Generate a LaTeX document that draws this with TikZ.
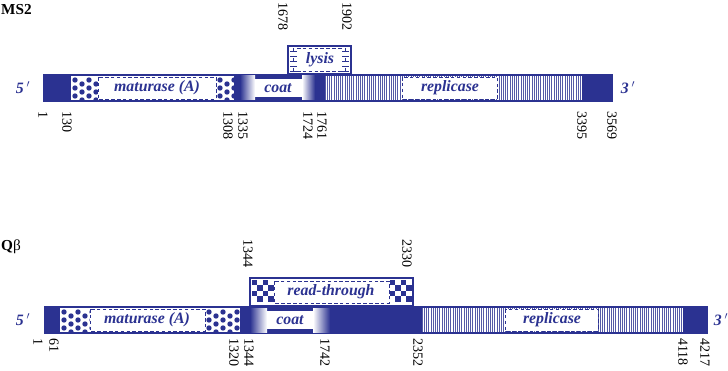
\documentclass[tikz,border=0pt]{standalone}
\usepackage{fontspec}
\setmainfont{Liberation Serif}
\usepackage{tikz}
\definecolor{phblue}{RGB}{43,50,145}

% dotted block (x1,y1,x2,y2)
\newcommand{\dotpatch}[4]{%
  \begin{scope}
    \clip (#1,#2) rectangle (#3,#4);
    \fill[white] (#1,#2) rectangle (#3,#4);
    \foreach \i in {0,...,5}
      \foreach \j in {0,...,3}
        \fill[phblue] ({#1+4+\i*7},{#2+4+\j*8+mod(\i,2)*4}) circle (2.3pt);
  \end{scope}}
% checker block, 4 x 4 (x,y,size)
\newcommand{\checkpatch}[3]{%
  \fill[white] (#1,#2) rectangle ++(4*#3,4*#3);
  \foreach \i in {0,...,3}
    \foreach \j in {0,2}
      \fill[phblue] ({#1+\i*#3},{#2+(\j+mod(\i,2))*#3}) rectangle ++(#3,#3);}
% vertical stripes (x1,x2,y1,y2)
\newcommand{\stripepatch}[4]{%
  \fill[white] (#1,#3) rectangle (#2,#4);
  \pgfmathsetmacro\stripelen{#2-#1}
  \foreach \k in {0,2.2,...,\stripelen}
    \draw[phblue!80, line width=0.45pt] ({#1+\k},#3) -- ({#1+\k},#4);}

\begin{document}
\begin{tikzpicture}[x=0.03cm,y=-0.03cm,
    pos label/.style={rotate=-90, inner sep=0pt, font=\fontsize{12}{14}\selectfont},
    gene label/.style={text=phblue, inner sep=0pt, font=\fontsize{13.5}{15}\selectfont\bfseries\itshape},
    label box/.style={fill=white, draw=phblue, densely dashed, line width=0.5pt},
    title/.style={inner sep=0pt, font=\fontsize{13}{15}\selectfont}]
\useasboundingbox (0,0) rectangle (728,371);

% ---------------- MS2 ----------------
\node[title, anchor=west] (ms2) at (1,10) {\bfseries MS2};

\fill[phblue] (43,74) rectangle (613,102);
% maturase
\fill[white] (71,76) rectangle (234,100);
\dotpatch{71}{76}{98}{100}
\dotpatch{216}{76}{234}{100}
\draw[label box] (98,77) rectangle (216,99);
\node[gene label] (mmat) at (157,88) {maturase (A)};
% coat
\shade[left color=phblue, right color=white] (240,76) rectangle (255,100);
\shade[left color=white, right color=phblue] (302,76) rectangle (315,100);
\fill[white] (255,79) rectangle (302,97);
\node[gene label] (mcoat) at (278,88) {coat};
% replicase
\stripepatch{325}{582}{76}{100}
\draw[label box] (402,77) rectangle (497,99);
\node[gene label] (mrep) at (450,88) {replicase};
% lysis
\draw[phblue, fill=white, line width=1.2pt] (288,46) rectangle (351,74);
\foreach \y in {51,56,...,71} {
  \draw[phblue, line width=0.5pt] (290,\y) -- (297,\y);
  \draw[phblue, line width=0.5pt] (342,\y) -- (349,\y);
}
\foreach \y in {48,58,68} {
  \draw[phblue, line width=0.5pt] (293.5,\y) -- ++(0,3) (345.5,\y) -- ++(0,3);
}
\draw[phblue, densely dashed, line width=0.5pt] (297,48.5) -- (342,48.5) (297,71.5) -- (342,71.5);
\node[gene label] (mlys) at (320,60) {lysis};

\node[gene label] (m5) at (23,88) {5\,$'$};
\node[gene label] (m3) at (628,88) {3\,$'$};

\node[pos label, anchor=east] (m1678) at (283,31) {1678};
\node[pos label, anchor=east] (m1902) at (347,31) {1902};

\node[pos label, anchor=west] (m1) at (43,111) {1};
\node[pos label, anchor=west] (m130) at (67,111) {130};
\node[pos label, anchor=west] (m1308) at (228,111) {1308};
\node[pos label, anchor=west] (m1335) at (243,111) {1335};
\node[pos label, anchor=west] (m1724) at (308,111) {1724};
\node[pos label, anchor=west] (m1761) at (322,111) {1761};
\node[pos label, anchor=west] (m3395) at (582,111) {3395};
\node[pos label, anchor=west] (m3569) at (612,111) {3569};

% ---------------- Qbeta ----------------
\node[title, anchor=west] (qb) at (1,247) {{\bfseries Q}β};

\fill[phblue] (44,306) rectangle (708,334);
% maturase
\fill[white] (60,308) rectangle (240,332);
\dotpatch{60}{308}{90}{332}
\dotpatch{205}{308}{240}{332}
\draw[label box] (90,309) rectangle (205,331);
\node[gene label] (qmat) at (147,320) {maturase (A)};
% coat
\shade[left color=phblue, right color=white] (250,308) rectangle (267,332);
\shade[left color=white, right color=phblue] (313,308) rectangle (330,332);
\fill[white] (267,311) rectangle (313,329);
\node[gene label] (qcoat) at (290,320) {coat};
% replicase
\stripepatch{422}{683}{308}{332}
\draw[label box] (505,309) rectangle (598,331);
\node[gene label] (qrep) at (552,320) {replicase};
% read-through
\draw[phblue, fill=white, line width=1.2pt] (250,278) rectangle (413,306);
\checkpatch{252}{280}{5.4}
\checkpatch{390}{280}{5.4}
\draw[label box] (274,281) rectangle (389,303);
\node[gene label] (qrt) at (331,292) {read-through};

\node[gene label] (q5) at (23,320) {5\,$'$};
\node[gene label] (q3) at (721,320) {3\,$'$};

\node[pos label, anchor=east] (q1344t) at (248,268) {1344};
\node[pos label, anchor=east] (q2330) at (407,268) {2330};

\node[pos label, anchor=west] (q1) at (38,338) {1};
\node[pos label, anchor=west] (q61) at (54,338) {61};
\node[pos label, anchor=west] (q1320) at (234,338) {1320};
\node[pos label, anchor=west] (q1344) at (249,338) {1344};
\node[pos label, anchor=west] (q1742) at (325,338) {1742};
\node[pos label, anchor=west] (q2352) at (418,338) {2352};
\node[pos label, anchor=west] (q4118) at (683,338) {4118};
\node[pos label, anchor=west] (q4217) at (705,338) {4217};
\end{tikzpicture}
\end{document}
